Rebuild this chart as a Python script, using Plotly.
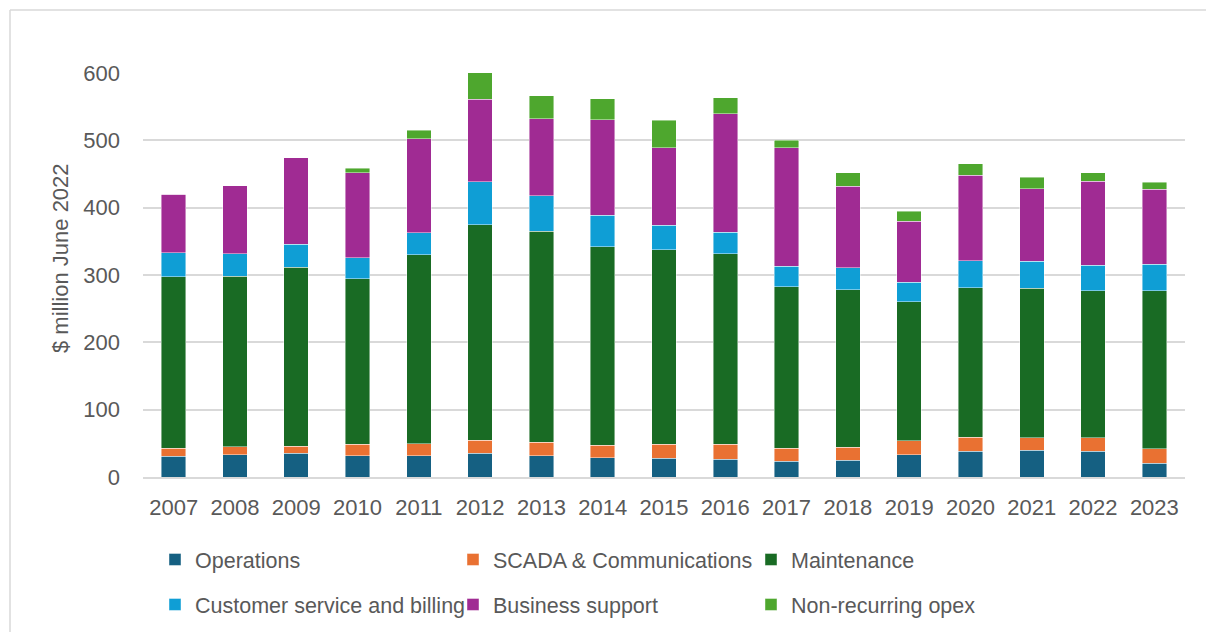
import plotly.graph_objects as go

# values ($ million June 2022)
years = [str(y) for y in range(2007, 2024)]
operations = [31.0, 32.7, 35.6, 31.2, 31.2, 35.1, 31.2, 28.7, 27.7, 26.7, 23.3, 24.8, 32.7, 38.1, 40.1, 38.1, 20.3]
scada = [11.5, 11.9, 9.9, 17.3, 18.3, 19.4, 20.3, 18.3, 20.8, 21.8, 19.3, 19.3, 20.8, 21.3, 18.3, 20.3, 21.8]
maintenance = [255.0, 253.9, 265.9, 246.1, 280.7, 320.3, 313.8, 294.6, 289.1, 283.2, 240.1, 234.1, 206.9, 221.8, 221.8, 218.3, 234.6]
customer = [35.7, 32.7, 34.1, 31.1, 32.7, 63.8, 52.5, 47.0, 36.2, 31.7, 30.2, 32.7, 28.7, 40.1, 40.1, 37.7, 39.1]
business = [87.0, 101.0, 128.3, 125.8, 139.1, 122.3, 114.4, 142.1, 115.3, 176.2, 176.2, 120.8, 91.1, 127.2, 107.9, 125.2, 111.9]
non_recurring = [0, 0, 0, 7.4, 12.9, 40.1, 34.1, 31.2, 41.1, 23.3, 11.4, 19.8, 14.4, 16.4, 17.3, 11.9, 9.9]

series = [
    ("Operations", operations, "#156082", "legend"),
    ("SCADA & Communications", scada, "#E97132", "legend"),
    ("Maintenance", maintenance, "#196B24", "legend"),
    ("Customer service and billing", customer, "#0F9ED5", "legend2"),
    ("Business support", business, "#A02B93", "legend2"),
    ("Non-recurring opex", non_recurring, "#4EA72E", "legend2"),
]

W, H = 1206, 632
L, R, T, B = 143, 21, 73, 155
pw, ph = W - L - R, H - T - B

def px_x(x):
    return (x - L) / pw

def px_y(y):
    return (H - B - y) / ph

font = "Arial, Liberation Sans, sans-serif"
grey = "#595959"

fig = go.Figure()
for name, vals, color, leg in series:
    fig.add_trace(go.Bar(
        x=years, y=vals, name=name, legend=leg,
        marker=dict(color=color, line=dict(color="rgba(255,255,255,0.55)", width=0.8)),
    ))

fig.update_layout(
    barmode="stack",
    bargap=0.6,
    width=W, height=H,
    margin=dict(l=L, r=R, t=T, b=B, autoexpand=False),
    paper_bgcolor="white",
    plot_bgcolor="white",
    font=dict(family=font, size=22, color=grey),
    legend=dict(orientation="h", x=px_x(155), y=px_y(539), xanchor="left", yanchor="top",
                entrywidth=253, font=dict(size=21.5, color=grey), traceorder="normal"),
    legend2=dict(orientation="h", x=px_x(155), y=px_y(584), xanchor="left", yanchor="top",
                 entrywidth=253, font=dict(size=21.5, color=grey), traceorder="normal"),
    annotations=[dict(
        text="$ million June 2022", textangle=-90, showarrow=False,
        xref="paper", yref="paper", x=px_x(60), y=px_y(258),
        xanchor="center", yanchor="middle", font=dict(size=22, color=grey),
    )],
    shapes=[
        dict(type="line", xref="paper", yref="paper", x0=px_x(10), x1=px_x(W + 5),
             y0=px_y(10), y1=px_y(10), line=dict(color="#d9d9d9", width=1.5)),
        dict(type="line", xref="paper", yref="paper", x0=px_x(10), x1=px_x(10),
             y0=px_y(10), y1=px_y(H + 5), line=dict(color="#d9d9d9", width=1.5)),
    ],
)

fig.update_xaxes(showgrid=False, showline=True, linecolor="#d9d9d9", linewidth=1.5,
                 ticks="", ticklabelstandoff=10, tickfont=dict(size=22, color=grey))
fig.update_yaxes(range=[0, 600], dtick=100, showgrid=True, gridcolor="#d9d9d9", gridwidth=1.5,
                 zeroline=False, showline=False, ticks="", ticklabelstandoff=22,
                 tickfont=dict(size=22, color=grey))

# page has a default 8px body margin, drop it so the chart sits at the window corner
fig.write_html("out.html", config={"displayModeBar": False},
               post_script="document.body.style.margin='0';")
